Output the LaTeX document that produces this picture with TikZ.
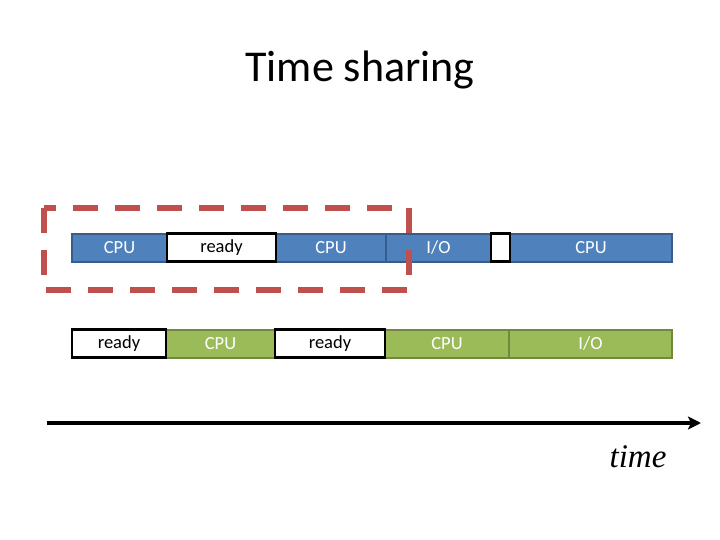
\documentclass[tikz,border=0pt]{standalone}
\usepackage{fontspec}
\setmainfont{Carlito}
\newfontfamily\serifit{Liberation Serif}
\usetikzlibrary{arrows.meta}
\definecolor{cpublue}{HTML}{4F81BD}
\definecolor{cpublueline}{HTML}{385D8A}
\definecolor{cpugreen}{HTML}{9BBB59}
\definecolor{cpugreenline}{HTML}{71893F}
\definecolor{markred}{HTML}{C0504D}
\tikzstyle{slot}=[rectangle, minimum height=28pt, inner sep=0pt, outer sep=0pt, font=\fontsize{18.5}{22}\selectfont]
\tikzstyle{blue}=[slot, fill=cpublue, draw=cpublueline, line width=2pt, text=white]
\tikzstyle{green}=[slot, fill=cpugreen, draw=cpugreenline, line width=2pt, text=white]
\tikzstyle{wait}=[slot, fill=white, draw=black, line width=2.5pt, text=black]

\begin{document}
\begin{tikzpicture}[x=1pt, y=-1pt]
    \useasboundingbox (0,0) rectangle (720,540);

    \node[font=\fontsize{44}{50}\selectfont] (title) at (360,70) {Time sharing};

      % first process
      \foreach \a/\b/\s/\t [count = \i] in {72/167/blue/CPU, 276/386/blue/CPU, 386/491/blue/{I/O},
          510/672/blue/CPU, 167/276/wait/ready, 491/510/wait/{}}{
        \node[\s, minimum width = {(\b - \a)*1pt}] (p\i) at ({(\a + \b)/2}, 247.5) {\t};
        }

      % second process
      \foreach \a/\b/\s/\t [count = \i] in {166/275/green/CPU, 385/509/green/CPU, 509/672/green/{I/O},
          72/166/wait/ready, 275/385/wait/ready}{
        \node[\s, minimum width = {(\b - \a)*1pt}] (q\i) at ({(\a + \b)/2}, 343.5) {\t};
        }

    \draw[markred, line width=6pt, dash pattern=on 25pt off 17pt]
        (44,208) rectangle (409,290);

    \coordinate (start) at (47,423);
    \coordinate (stop) at (701,423);
    \draw[line width=3.5pt, -{Stealth[length=13pt, width=13pt, inset=3pt]}] (start) -- (stop);
    \node[font=\serifit\itshape\fontsize{33}{37}\selectfont] (time) at (638,457) {time};
  
    \end{tikzpicture}
\end{document}
